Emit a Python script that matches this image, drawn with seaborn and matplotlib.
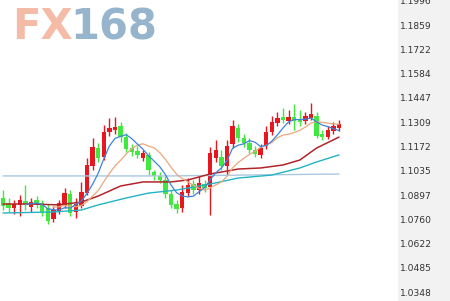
import numpy as np
import pandas as pd
import matplotlib
matplotlib.use("Agg")
import matplotlib.pyplot as plt
import seaborn as sns

# ---- data ----
opens = [1.0886, 1.0858, 1.0830, 1.0847, 1.0869, 1.0835, 1.0875, 1.0858, 1.0830, 1.0767,
         1.0813, 1.0847, 1.0909, 1.0807, 1.0841, 1.0914, 1.1067, 1.1169, 1.1118, 1.1260,
         1.1271, 1.1294, 1.1231, 1.1169, 1.1152, 1.1113, 1.1130, 1.1033, 1.1011, 1.0988,
         1.0909, 1.0852, 1.0830, 1.0914, 1.0965, 1.0931, 1.0965, 1.0948, 1.1113, 1.1118,
         1.1067, 1.1192, 1.1282, 1.1226, 1.1197, 1.1158, 1.1130, 1.1180, 1.1260, 1.1311,
         1.1345, 1.1322, 1.1345, 1.1333, 1.1322, 1.1339, 1.1350, 1.1248, 1.1231, 1.1265,
         1.1282]
closes = [1.0841, 1.0830, 1.0852, 1.0875, 1.0847, 1.0863, 1.0852, 1.0807, 1.0756, 1.0818,
          1.0858, 1.0914, 1.0801, 1.0852, 1.0920, 1.1073, 1.1175, 1.1113, 1.1260, 1.1282,
          1.1288, 1.1231, 1.1163, 1.1146, 1.1130, 1.1141, 1.1045, 1.1011, 1.0988, 1.0909,
          1.0847, 1.0824, 1.0920, 1.0960, 1.0931, 1.0971, 1.0943, 1.1141, 1.1158, 1.1067,
          1.1180, 1.1294, 1.1226, 1.1197, 1.1158, 1.1135, 1.1169, 1.1260, 1.1316, 1.1339,
          1.1328, 1.1345, 1.1322, 1.1316, 1.1350, 1.1362, 1.1237, 1.1231, 1.1271, 1.1294,
          1.1305]
highs = [1.0931, 1.0886, 1.0875, 1.0903, 1.0960, 1.0886, 1.0897, 1.0875, 1.0852, 1.0841,
         1.0875, 1.0943, 1.0931, 1.0886, 1.0977, 1.1113, 1.1226, 1.1197, 1.1299, 1.1339,
         1.1345, 1.1316, 1.1254, 1.1192, 1.1180, 1.1158, 1.1146, 1.1045, 1.1033, 1.1011,
         1.0931, 1.0875, 1.0960, 1.0999, 1.0988, 1.1011, 1.0988, 1.1175, 1.1214, 1.1158,
         1.1214, 1.1328, 1.1305, 1.1248, 1.1226, 1.1180, 1.1192, 1.1294, 1.1350, 1.1373,
         1.1396, 1.1384, 1.1418, 1.1384, 1.1373, 1.1424, 1.1373, 1.1271, 1.1294, 1.1316,
         1.1328]
lows = [1.0818, 1.0807, 1.0796, 1.0784, 1.0818, 1.0807, 1.0830, 1.0784, 1.0739, 1.0750,
        1.0796, 1.0830, 1.0784, 1.0773, 1.0830, 1.0903, 1.1045, 1.1090, 1.1101, 1.1237,
        1.1248, 1.1203, 1.1146, 1.1124, 1.1113, 1.1096, 1.1016, 1.0988, 1.0971, 1.0886,
        1.0830, 1.0801, 1.0807, 1.0897, 1.0909, 1.0909, 1.0920, 1.0790, 1.1090, 1.1045,
        1.1016, 1.1169, 1.1203, 1.1175, 1.1141, 1.1118, 1.1113, 1.1163, 1.1243, 1.1294,
        1.1311, 1.1305, 1.1271, 1.1294, 1.1305, 1.1328, 1.1226, 1.1214, 1.1220, 1.1248,
        1.1265]

# long moving averages read at selected candle indices
ma_red_idx = [0, 5, 10, 14, 17, 21, 25, 30, 33, 37, 42, 46, 50, 53, 56, 60]
ma_red_val = [1.0852, 1.0852, 1.0847, 1.0863, 1.0897, 1.0954, 1.0977, 1.0977, 1.0988,
              1.1022, 1.1050, 1.1056, 1.1073, 1.1101, 1.1169, 1.1231]
ma_teal_idx = [0, 9, 14, 17, 22, 26, 31, 37, 42, 48, 53, 56, 60]
ma_teal_val = [1.0801, 1.0807, 1.0818, 1.0847, 1.0886, 1.0914, 1.0931, 1.0965, 1.0999,
               1.1016, 1.1056, 1.1090, 1.1130]
ma_lb_idx = [0, 30, 60]
ma_lb_val = [1.1011, 1.1011, 1.1022]

tick_labels = ["1.1996", "1.1859", "1.1722", "1.1584", "1.1447", "1.1309", "1.1172",
               "1.1035", "1.0897", "1.0760", "1.0622", "1.0485", "1.0348"]

# ---- figure ----
sns.set_theme(style="white")
plt.rcParams['font.family'] = ['DejaVu Sans']

W, H = 450, 301
fig = plt.figure(figsize=(W / 100, H / 100), dpi=100)
fig.patch.set_facecolor("white")
ax = fig.add_axes([0, 0, 398 / W, 1])
ax.set_facecolor("white")

df = pd.DataFrame({"open": opens, "close": closes, "high": highs, "low": lows})
df["idx"] = np.arange(len(df))
up = df["close"] >= df["open"]
red = "#e8161e"
green = "#40e840"

for sub, col in ((df[up], red), (df[~up], green)):
    ax.vlines(sub["idx"], sub["low"], sub["high"], color=col, linewidth=1.0, zorder=2)
    bottoms = np.minimum(sub["open"], sub["close"])
    heights = np.abs(sub["close"] - sub["open"]).clip(lower=0.0005)
    ax.bar(sub["idx"], heights, bottom=bottoms, width=0.8, color=col,
           linewidth=0, zorder=3)

df["ma5"] = df["close"].rolling(5).mean()
df["ma10"] = df["close"].rolling(10).mean()

sns.lineplot(x=ma_lb_idx, y=ma_lb_val, ax=ax, color="#a9c8e0", linewidth=1.0, zorder=4)
sns.lineplot(x=ma_teal_idx, y=ma_teal_val, ax=ax, color="#22b4c4", linewidth=1.0, zorder=4)
sns.lineplot(x=ma_red_idx, y=ma_red_val, ax=ax, color="#b3242a", linewidth=1.1, zorder=4)
sns.lineplot(data=df, x="idx", y="ma10", ax=ax, color="#eba77c", linewidth=0.9, zorder=5)
sns.lineplot(data=df, x="idx", y="ma5", ax=ax, color="#3f83d8", linewidth=0.9, zorder=5)

ymin, ymax = 1.20073 - 301 * 0.0005663, 1.20073
ax.set_ylim(ymin, ymax)
ax.set_xlim(-0.536, -0.536 + 398 / 5.6)
ax.set_xticks([])
ax.set_yticks([])
ax.set_xlabel("")
ax.set_ylabel("")
for s in ax.spines.values():
    s.set_visible(False)

# logo
fig.text(12 / W, 1 - 27 / H, "FX", color="#f4bba7", fontsize=30, fontweight="bold",
         va="center", ha="left", family="DejaVu Sans")
fig.text(70 / W, 1 - 27 / H, "168", color="#96b5cc", fontsize=30, fontweight="bold",
         va="center", ha="left", family="DejaVu Sans")

# right price panel
ax2 = fig.add_axes([398 / W, 0, 52 / W, 1])
ax2.set_facecolor("#f2f2f2")
ax2.set_ylim(ymin, ymax)
ax2.set_xlim(0, 1)
ax2.set_xticks([])
ax2.set_yticks([])
for s in ax2.spines.values():
    s.set_visible(False)
for lab in tick_labels:
    ax2.text(0.03, float(lab), lab, fontsize=6.6, color="#333333", va="center", ha="left")

fig.savefig("out.png", dpi=100, facecolor="white")
